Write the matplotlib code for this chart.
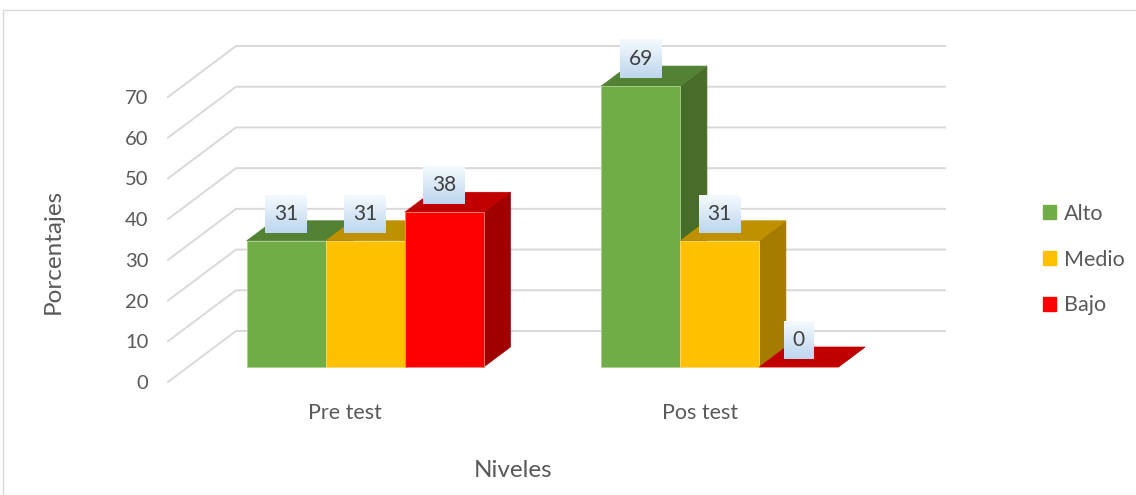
import numpy as np
import matplotlib.pyplot as plt
from matplotlib.patches import Polygon, Rectangle, Patch

categorias = ["Pre test", "Pos test"]
series = ["Alto", "Medio", "Bajo"]
alto = [31, 69]
medio = [31, 31]
bajo = [38, 0]
valores = [alto, medio, bajo]
yticks = list(range(0, 80, 10))

# colores: frente, tapa, lateral, borde
col_frente = ["#70ad47", "#ffc000", "#ff0000"]
col_tapa = ["#548235", "#bf9000", "#c00000"]
col_lado = ["#476d28", "#a67c00", "#a00000"]
col_borde = ["#a9d08e", "#ffd966", "#ff8080"]

plt.rcParams['font.family'] = ['Lato', 'DejaVu Sans']

W, H = 1136, 495
fig = plt.figure(figsize=(W / 100, H / 100), dpi=100)
ax = fig.add_axes([168 / W, 1 - 382 / H, (877 - 168) / W, (382 - 97) / H])

px_x = (877 - 168) / 2      # pixeles por categoria
px_y = (382 - 97) / 70      # pixeles por unidad
DX = 68 / px_x              # desplazamiento de profundidad
DY = 51 / px_y
d0, d1 = 15 / 51, 35 / 51   # profundidad de las barras
w = 79 / px_x


def proj(x, v, d):
    return (x + d * DX, v + d * DY)


# paredes: lineas de cuadricula en el piso lateral y la pared del fondo
for v in yticks:
    ax.plot([-0.5, -0.5 + DX, 1.5 + DX], [v, v + DY, v + DY],
            color="#d9d9d9", lw=1.4, clip_on=False, zorder=1)

z = 2
for i in range(len(categorias)):
    for j in range(len(series)):
        v = valores[j][i]
        x0 = i - 1.5 * w + j * w
        x1 = x0 + w
        lado = Polygon([proj(x1, 0, d0), proj(x1, v, d0), proj(x1, v, d1), proj(x1, 0, d1)],
                       closed=True, facecolor=col_lado[j], edgecolor=col_lado[j], lw=0.5,
                       clip_on=False, zorder=z)
        tapa = Polygon([proj(x0, v, d0), proj(x1, v, d0), proj(x1, v, d1), proj(x0, v, d1)],
                       closed=True, facecolor=col_tapa[j], edgecolor=col_tapa[j], lw=0.5,
                       clip_on=False, zorder=z + 1)
        frente = Rectangle(proj(x0, 0, d0), w, v, facecolor=col_frente[j],
                           edgecolor=col_borde[j], lw=0.6, clip_on=False, zorder=z + 2)
        ax.add_patch(lado)
        ax.add_patch(tapa)
        ax.add_patch(frente)
        z += 3

# etiquetas de datos con fondo degradado
t = np.linspace(0, 1, 50)[:, None, None]
arriba = np.array([0.96, 0.98, 1.0])
abajo = np.array([0.74, 0.84, 0.93])
degradado = np.repeat(arriba * (1 - t) + abajo * t, 2, axis=1)

for i in range(len(categorias)):
    for j in range(len(series)):
        v = valores[j][i]
        texto = str(v)
        xc = i - 1.5 * w + j * w + w / 2 + d0 * DX
        yc = v + d0 * DY + 27 / px_y
        bw = (18 + 12 * len(texto)) / px_x
        bh = 38 / px_y
        ax.imshow(degradado, extent=[xc - bw / 2, xc + bw / 2, yc - bh / 2, yc + bh / 2],
                  aspect="auto", origin="upper", clip_on=False, zorder=50)
        ax.text(xc, yc, texto, ha="center", va="center", fontsize=15,
                color="#404040", zorder=51, clip_on=False)

ax.set_xlim(-0.5, 1.5)
ax.set_ylim(0, 70)
for s in ax.spines.values():
    s.set_visible(False)
ax.set_yticks(yticks)
ax.set_xticks(range(len(categorias)))
ax.set_xticklabels(categorias)
ax.tick_params(axis="y", length=0, pad=14, labelsize=14.5, labelcolor="#595959")
ax.tick_params(axis="x", length=0, pad=15, labelsize=15.5, labelcolor="#595959")
ax.patch.set_visible(False)

ax.set_xlabel("Niveles", fontsize=17.5, color="#595959")
ax.xaxis.set_label_coords((513 - 168) / 709, (382 - 460) / 285)
ax.set_ylabel("Porcentajes", fontsize=17.5, color="#595959")
ax.yaxis.set_label_coords((64 - 168) / 709, (382 - 251) / 285)

manijas = [Patch(facecolor=c, edgecolor=c) for c in col_frente]
fig.legend(manijas, series, loc="upper left", bbox_to_anchor=(1032 / W, 1 - 193 / H),
           frameon=False, fontsize=15.5, handlelength=0.6, handleheight=0.6,
           handletextpad=0.4, labelspacing=1.2, borderpad=0, labelcolor="#595959")

# borde del area del grafico
fig.add_artist(Rectangle((3 / W, -0.1), 1.2, 1.1 - 10 / H, transform=fig.transFigure,
                         fill=False, edgecolor="#d9d9d9", lw=1))

fig.savefig("out.png", dpi=100)
